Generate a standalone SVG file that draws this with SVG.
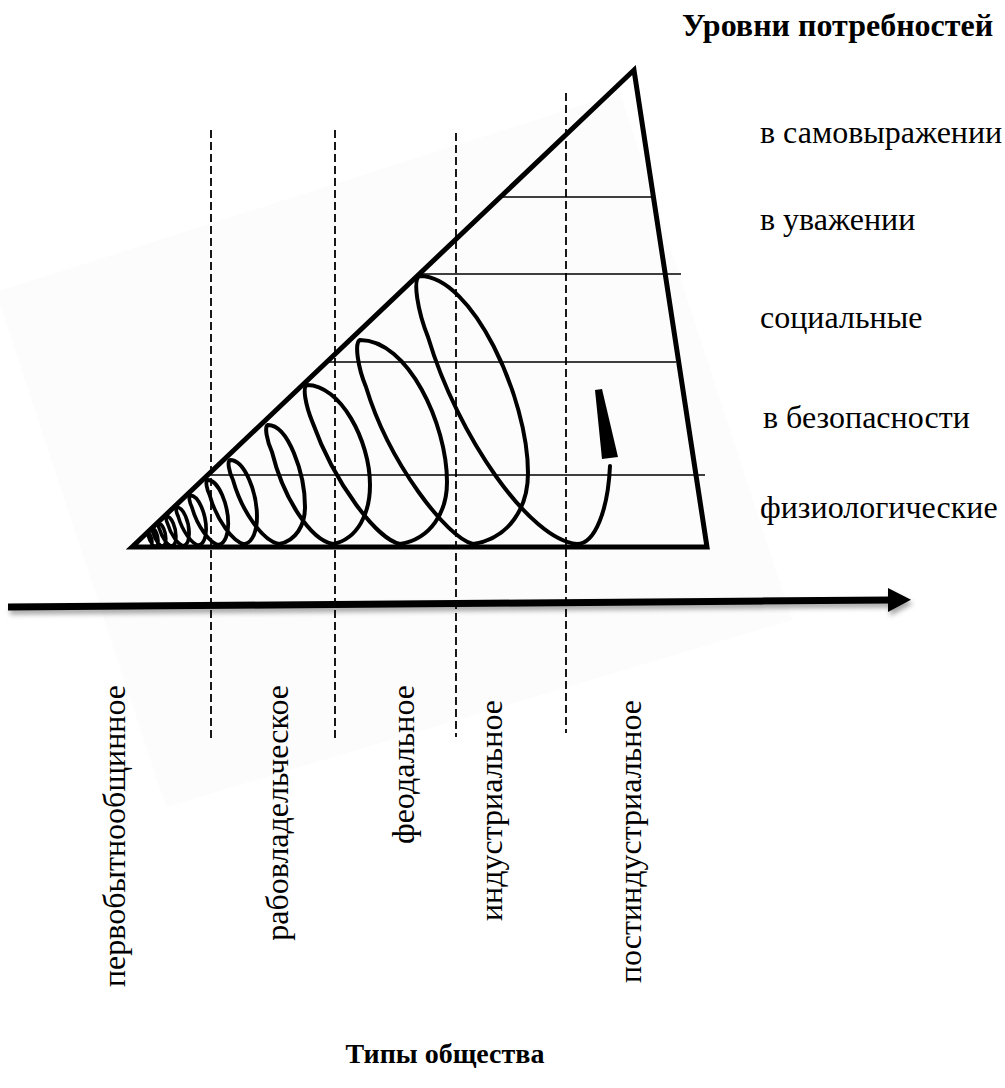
<svg xmlns="http://www.w3.org/2000/svg" width="1005" height="1088" viewBox="0 0 1005 1088">
<defs>
<style>
.lbl{font-family:"Liberation Serif","Times New Roman",serif;font-size:32px;fill:#000}
.ttl{font-family:"Liberation Serif","Times New Roman",serif;font-size:32px;font-weight:bold;fill:#000}
.frame{fill:none;stroke:#000;stroke-width:5;stroke-linejoin:miter}
.level{stroke:#000;stroke-width:1.6}
.era{stroke:#000;stroke-width:1.8;stroke-dasharray:8 4}
.spiral{fill:none;stroke:#000;stroke-linecap:round;stroke-linejoin:round}
</style>
<filter id="shadow" x="-5%" y="-200%" width="110%" height="500%">
<feDropShadow dx="2" dy="4" stdDeviation="2.5" flood-color="#000" flood-opacity="0.35"/>
</filter>
<path id="loop5" d="M245,544 C253,542 257,530 257,517 C257,493 245,460 230,460 C227,461 229,472 233,480 C242,512 263,541 279,544"/>
</defs>
<rect width="1005" height="1088" fill="#fff"/>
<polygon points="-4,292 620,93 792,620 166,807" fill="#fcfcfc"/>

<g id="era-lines">
<line class="era" x1="211" y1="130" x2="211" y2="740"/>
<line class="era" x1="335" y1="130" x2="335" y2="740"/>
<line class="era" x1="456" y1="133" x2="456" y2="737"/>
<line class="era" x1="566" y1="93" x2="566" y2="733"/>
</g>

<g id="level-lines">
<line class="level" x1="500" y1="197" x2="654" y2="197"/>
<line class="level" x1="420" y1="274" x2="681" y2="274"/>
<line class="level" x1="328" y1="362" x2="676" y2="362"/>
<line class="level" x1="209" y1="475" x2="705" y2="475"/>
</g>

<g id="needs-triangle">
<polygon class="frame" points="132,547 634,70 707,547"/>
</g>

<g id="connectors">
<g id="spiral" class="spiral" stroke-width="4">
<use href="#loop5" transform="translate(132 547) scale(0.161) translate(-132 -547)" style="stroke-width:20"/>
<use href="#loop5" transform="translate(132 547) scale(0.209) translate(-132 -547)" style="stroke-width:16.3"/>
<use href="#loop5" transform="translate(132 547) scale(0.271) translate(-132 -547)" style="stroke-width:12.9"/>
<use href="#loop5" transform="translate(132 547) scale(0.352) translate(-132 -547)" style="stroke-width:10"/>
<use href="#loop5" transform="translate(132 547) scale(0.457) translate(-132 -547)" style="stroke-width:7.9"/>
<use href="#loop5" transform="translate(132 547) scale(0.593) translate(-132 -547)" style="stroke-width:6.2"/>
<use href="#loop5" transform="translate(132 547) scale(0.77) translate(-132 -547)" style="stroke-width:4.9"/>
<use href="#loop5" style="stroke-width:3.9"/>
<path d="M279,544 C296,541 305,525 305,507 C305,473 288,425 268,425 C264,426 267,441 272,452 C283,497 310,540 333,544"/>
<path d="M333,544 C358,539 370,513 370,485 C370,440 340,385 307,385 C302,387 306,406 312,421 C335,485 378,540 400,544"/>
<path d="M400,544 C431,539 447,512 447,482 C447,424 408,340 360,340 C354,342 358,368 366,387 C389,463 447,538 473,544"/>
<path d="M473,544 C510,538 528,507 528,473 C528,397 472,276 420,276 C412,279 418,312 428,337 C458,437 530,540 577,544 C595,544 608,510 610,466"/>
<polygon points="595,390 602,389 618,457 602,459" fill="#000" stroke="none"/>
</g>
<g id="time-axis" filter="url(#shadow)">
<line x1="8" y1="607" x2="892" y2="600" stroke="#000" stroke-width="7"/>
<polygon points="911,599.8 888,588 888,612" fill="#000"/>
</g>
</g>

<g id="title-levels"><text class="ttl" x="682" y="36">Уровни потребностей</text></g>
<g id="level-self"><text class="lbl" x="760" y="143">в самовыражении</text></g>
<g id="level-esteem"><text class="lbl" x="760" y="230">в уважении</text></g>
<g id="level-social"><text class="lbl" x="760" y="328">социальные</text></g>
<g id="level-safety"><text class="lbl" x="763" y="428">в безопасности</text></g>
<g id="level-physio"><text class="lbl" x="760" y="518">физиологические</text></g>

<g id="era-primitive"><text class="lbl" text-anchor="end" transform="translate(125 685) rotate(-90)">первобытнообщинное</text></g>
<g id="era-slave"><text class="lbl" text-anchor="end" transform="translate(288 685) rotate(-90)">рабовладельческое</text></g>
<g id="era-feudal"><text class="lbl" text-anchor="end" transform="translate(414 685) rotate(-90)">феодальное</text></g>
<g id="era-industrial"><text class="lbl" text-anchor="end" transform="translate(502 700) rotate(-90)">индустриальное</text></g>
<g id="era-postindustrial"><text class="lbl" text-anchor="end" transform="translate(641 700) rotate(-90)">постиндустриальное</text></g>

<g id="title-types"><text class="ttl" x="445" y="1063" text-anchor="middle" style="font-size:28px">Типы общества</text></g>
</svg>
